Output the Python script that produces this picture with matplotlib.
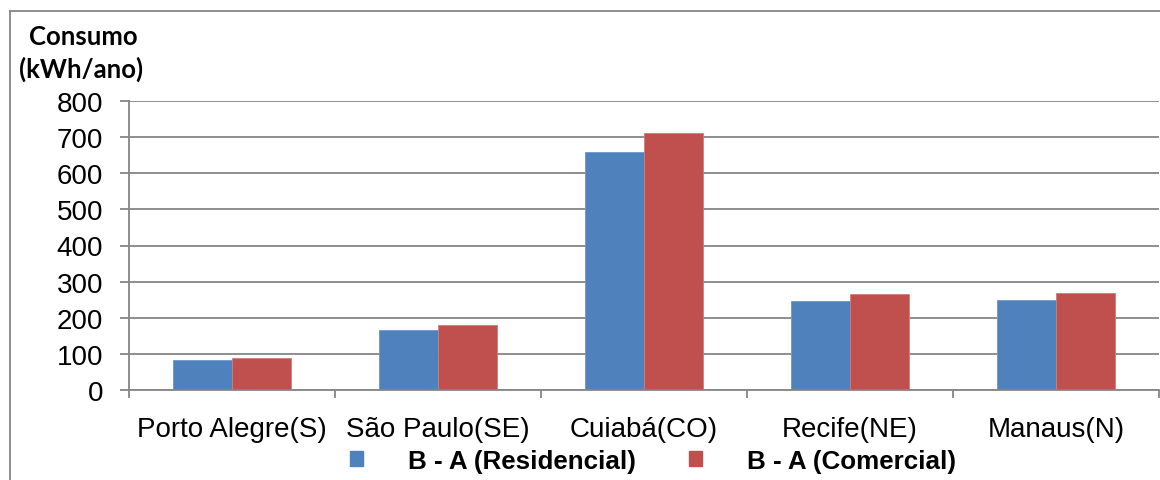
import matplotlib
matplotlib.use("Agg")
import matplotlib.pyplot as plt
import numpy as np
from matplotlib.lines import Line2D
from matplotlib.patches import Patch

cities = ["Porto Alegre(S)", "São Paulo(SE)", "Cuiabá(CO)", "Recife(NE)", "Manaus(N)"]
residencial = [82, 165, 658, 245, 248]
comercial = [89, 180, 712, 266, 269]
series_names = ["B - A (Residencial)", "B - A (Comercial)"]
y_ticks = [0, 100, 200, 300, 400, 500, 600, 700, 800]

blue = "#4F81BD"
red = "#C0504D"
grey = "#868686"

W, H = 1160, 481
fig = plt.figure(figsize=(W / 100, H / 100), dpi=100)
ax = fig.add_axes([129 / W, 1 - 391 / H, 1030 / W, 289 / H])

x = np.arange(len(cities))
w = 0.285
ax.bar(x - w / 2, residencial, width=w, color=blue, edgecolor="#6F97CB", linewidth=0.6)
ax.bar(x + w / 2, comercial, width=w, color=red, edgecolor="#D27C79", linewidth=0.6)

ax.set_xlim(-0.5, len(cities) - 0.5)
ax.set_ylim(0, 800)
ax.set_yticks(y_ticks)
ax.yaxis.grid(True, color=grey, linewidth=1.3)
ax.set_axisbelow(True)

for s in ["top", "right"]:
    ax.spines[s].set_visible(False)
for s in ["left", "bottom"]:
    ax.spines[s].set_color(grey)
    ax.spines[s].set_linewidth(1.3)

# category separators as major ticks, names centred on minor ticks
ax.set_xticks(np.arange(len(cities) + 1) - 0.5)
ax.set_xticklabels([])
ax.set_xticks(x, minor=True)
ax.set_xticklabels(cities, minor=True, fontsize=20, family="Liberation Sans")
ax.tick_params(axis="x", which="major", length=6, width=1.3, color=grey, direction="out")
ax.tick_params(axis="x", which="minor", length=0, pad=19)
ax.tick_params(axis="y", length=6.2, width=1.3, color=grey, direction="out", pad=12.5,
               labelsize=20)
for lab in ax.get_yticklabels():
    lab.set_family("Liberation Sans")

fig.text(83 / W, 1 - 45 / H, "Consumo", ha="center", va="baseline",
         fontsize=18.5, fontweight="bold", family="Lato")
fig.text(81 / W, 1 - 78 / H, "(kWh/ano)", ha="center", va="baseline",
         fontsize=18.5, fontweight="bold", family="Lato")

handles = [Patch(facecolor=blue, edgecolor=blue), Patch(facecolor=red, edgecolor=red)]
leg = fig.legend(handles, series_names, loc="center", bbox_to_anchor=(653 / W, 1 - 462 / H),
                 ncol=2, frameon=False, handlelength=0.5, handleheight=0.5,
                 handletextpad=1.73, columnspacing=2.08, borderpad=0, borderaxespad=0,
                 prop={"family": "Liberation Sans", "weight": "bold", "size": 18.7})

# outer chart frame
fig.add_artist(Line2D([9.5 / W, 9.5 / W], [0, 1 - 12 / H], color=grey, linewidth=1.3,
                      transform=fig.transFigure))
fig.add_artist(Line2D([9.5 / W, 1], [1 - 12 / H, 1 - 12 / H], color=grey, linewidth=1.3,
                      transform=fig.transFigure))

fig.savefig("out.png", dpi=100)
